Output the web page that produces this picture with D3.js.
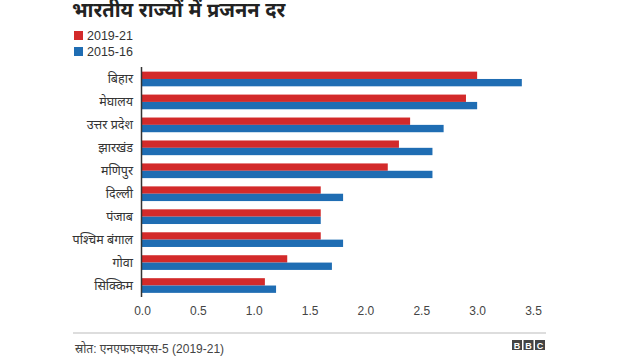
<!DOCTYPE html>
<html><head><meta charset="utf-8">
<script src="https://cdn.jsdelivr.net/npm/d3@7"></script>
<style>
body{margin:0;background:#fff;}
text{font-family:Arial,"Liberation Sans","Noto Sans",sans-serif;}
</style></head>
<body><svg id="c" width="640" height="360"></svg>
<script>
const title = "भारतीय राज्यों में प्रजनन दर";
const states = ["बिहार","मेघालय","उत्तर प्रदेश","झारखंड","मणिपुर","दिल्ली","पंजाब","पश्चिम बंगाल","गोवा","सिक्किम"];
const seriesNames = ["2019-21","2015-16"];
const values2019 = [3.0,2.9,2.4,2.3,2.2,1.6,1.6,1.6,1.3,1.1];
const values2015 = [3.4,3.0,2.7,2.6,2.6,1.8,1.6,1.8,1.7,1.2];
const ticks = [0,0.5,1.0,1.5,2.0,2.5,3.0,3.5];
const source = "स्रोत: एनएफएचएस-5 (2019-21)";
const colors = ["#d32a2a","#1f6db3"];

const svg = d3.select("#c");
svg.append("text").attr("x",72).attr("y",17).attr("font-size",20).attr("font-weight","bold").attr("fill","#222").text(title);

seriesNames.forEach((s,i)=>{
  svg.append("rect").attr("x",74).attr("y",31+i*16).attr("width",9).attr("height",9).attr("fill",colors[i]);
  svg.append("text").attr("x",87).attr("y",40+i*16).attr("font-size",12.5).attr("fill","#333").text(s);
});

const x = d3.scaleLinear().domain([0,3.5]).range([142,533]);
const y = d3.scaleBand().domain(states).range([67.5,297]).paddingInner(0.36).paddingOuter(0.18);
const sub = d3.scaleBand().domain(seriesNames).range([0,y.bandwidth()]);

const data = states.map((st,i)=>({st, vals:[values2019[i],values2015[i]]}));
const g = svg.append("g");
data.forEach(d=>{
  d.vals.forEach((v,j)=>{
    g.append("rect").attr("x",x(0)).attr("y",y(d.st)+sub(seriesNames[j]))
      .attr("width",x(v)-x(0)).attr("height",sub.bandwidth()).attr("fill",colors[j]);
  });
});

// category labels
states.forEach(st=>{
  svg.append("text").attr("x",133).attr("y",y(st)+y.bandwidth()/2+4.5).attr("text-anchor","end")
    .attr("font-size",12.5).attr("fill","#333").text(st);
});

// y axis line
svg.append("line").attr("x1",141.5).attr("x2",141.5).attr("y1",67).attr("y2",297).attr("stroke","#333").attr("stroke-width",1.5);

// x axis
const xa = svg.append("g").attr("transform","translate(0,315)")
  .call(d3.axisBottom(x).tickValues(ticks).tickFormat(d3.format(".1f")).tickSize(0).tickPadding(0));
xa.select(".domain").remove();
xa.selectAll("text").attr("font-size",12).attr("fill","#444").attr("dy",0).attr("y",0)
  .style("font-family","Arial,'Liberation Sans',sans-serif");

// separator
svg.append("line").attr("x1",73).attr("x2",546).attr("y1",333).attr("y2",333).attr("stroke","#bbb").attr("stroke-width",1.2);
svg.append("text").attr("x",75).attr("y",353).attr("font-size",12).attr("fill","#444").text(source);

// BBC logo
["B","B","C"].forEach((ch,i)=>{
  svg.append("rect").attr("x",512+i*11.5).attr("y",340).attr("width",10).attr("height",10).attr("fill","#444");
  svg.append("text").attr("x",517+i*11.5).attr("y",348.5).attr("text-anchor","middle").attr("font-size",9).attr("font-weight","bold").attr("fill","#fff").text(ch);
});
</script></body></html>
